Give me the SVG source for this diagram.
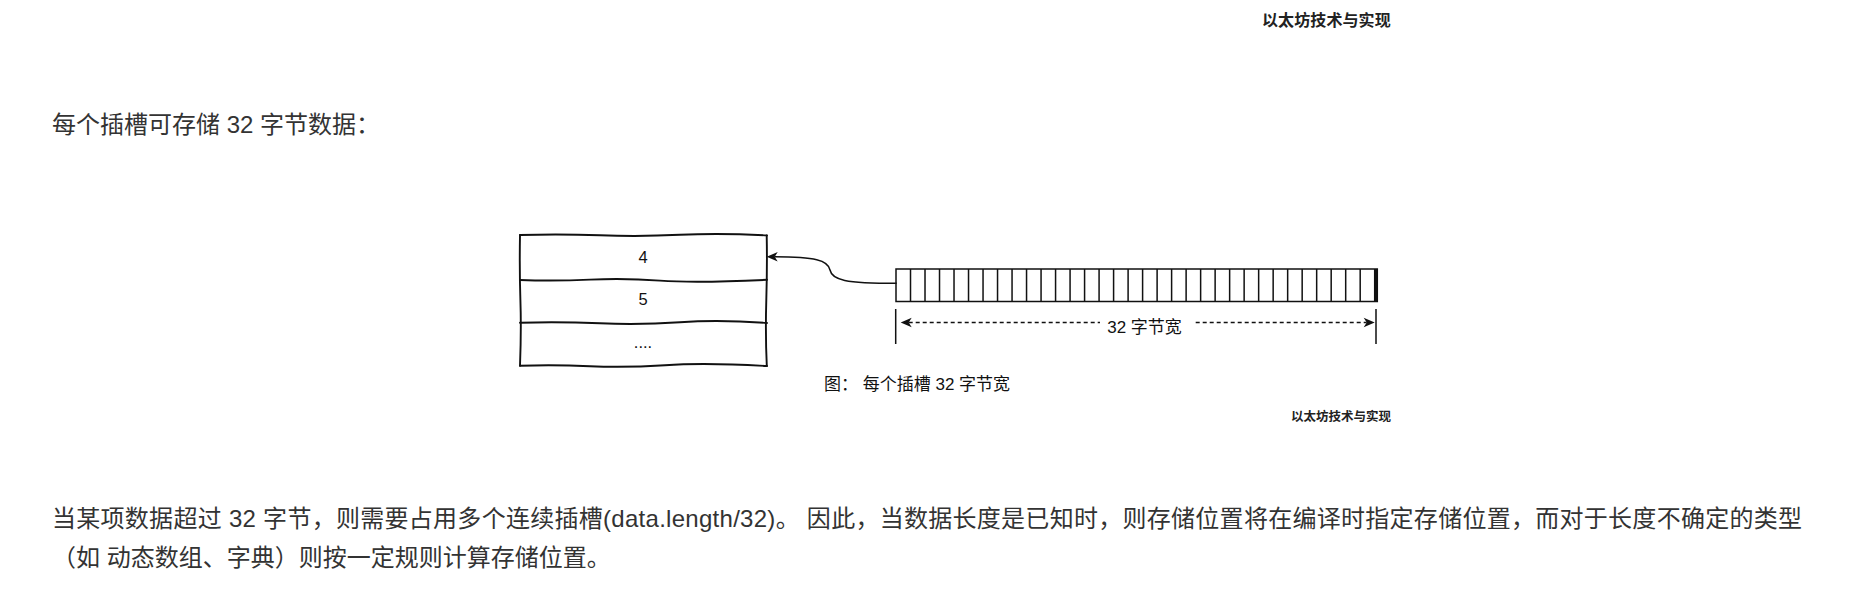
<svg xmlns="http://www.w3.org/2000/svg" width="1864" height="591" viewBox="0 0 1864 591">
<defs>
<style>
.body{font-family:"Liberation Sans","Noto Sans CJK SC",sans-serif;font-size:24px;fill:#333}
.wm{font-family:"Noto Sans CJK SC",serif;font-weight:700;fill:#222}
.lbl{font-family:"Liberation Sans","Noto Sans CJK SC",sans-serif;fill:#111}
.sk{fill:none;stroke:#111;stroke-width:1.9;stroke-linecap:round}
.ln{fill:none;stroke:#111;stroke-width:1.5}
.dash{fill:none;stroke:#111;stroke-width:1.5;stroke-dasharray:4 3}
</style>
<marker id="arrow" markerUnits="userSpaceOnUse" viewBox="-4 -6 13 12" refX="0" refY="0" markerWidth="13" markerHeight="12" orient="auto-start-reverse">
<path d="M -3 -4.8 L 8 0 L -3 4.8 L 0 0 Z" fill="#111"/>
</marker>
</defs>
<rect width="1864" height="591" fill="#fff"/>

<g id="watermark-top"><text class="wm" x="1262" y="25.5" font-size="16" letter-spacing="0.1">以太坊技术与实现</text></g>

<g id="heading"><text class="body" x="52" y="133">每个插槽可存储 32 字节数据：</text></g>

<g id="slots-table">
<path class="sk" d="M520 235 Q560 233.8 600 235.3 T680 234.8 T767 235.4"/>
<path class="sk" d="M520 280 Q555 281.2 590 279.6 T660 280.6 T767 279.8" stroke-width="2.2"/>
<path class="sk" d="M520 322.7 Q560 321.6 600 323.3 T680 322.2 T767 323"/>
<path class="sk" d="M520 365.7 Q555 364.6 590 366.2 T665 365.2 T767 366"/>
<path class="sk" d="M520 235 Q519.4 270 520.4 300 T520 365.7"/>
<path class="sk" d="M766.7 235.4 Q767.3 265 766.3 300 T766.8 366"/>
<text class="lbl" x="643" y="263" font-size="16.5" text-anchor="middle">4</text>
<text class="lbl" x="643" y="305" font-size="16.5" text-anchor="middle">5</text>
<text class="lbl" x="643" y="347.5" font-size="16.5" text-anchor="middle">....</text>
</g>

<g id="slot-bar">
<rect class="ln" x="896" y="269" width="481.3" height="32.5" fill="#fff"/>
<path class="ln" d="M910.51 269V301.5M925.01 269V301.5M939.52 269V301.5M954.02 269V301.5M968.53 269V301.5M983.04 269V301.5M997.54 269V301.5M1012.05 269V301.5M1026.55 269V301.5M1041.06 269V301.5M1055.57 269V301.5M1070.07 269V301.5M1084.58 269V301.5M1099.08 269V301.5M1113.59 269V301.5M1128.1 269V301.5M1142.6 269V301.5M1157.11 269V301.5M1171.61 269V301.5M1186.12 269V301.5M1200.63 269V301.5M1215.13 269V301.5M1229.64 269V301.5M1244.14 269V301.5M1258.65 269V301.5M1273.16 269V301.5M1287.66 269V301.5M1302.17 269V301.5M1316.67 269V301.5M1331.18 269V301.5M1345.69 269V301.5M1360.19 269V301.5M1374.7 269V301.5"/>
<rect x="1374.7" y="269" width="2.6" height="32.5" fill="#111"/>
</g>

<g id="dimension">
<path class="ln" d="M895.7 309V344M1376 309V344"/>
<path class="dash" d="M908.7 322.5H1366.7" marker-start="url(#arrow)" marker-end="url(#arrow)"/>
<rect x="1100" y="312" width="93" height="22" fill="#fff"/>
<text class="lbl" x="1144.5" y="332.5" font-size="17" text-anchor="middle">32 字节宽</text>
</g>

<g id="connectors">
<path class="ln" d="M896.7 283.3 C845 283.3 832 280 830 270 C828 260 815 257 774.7 256.8" marker-end="url(#arrow)"/>
</g>

<g id="caption"><text class="lbl" x="824" y="390" font-size="17">图： 每个插槽 32 字节宽</text></g>

<g id="watermark-bottom"><text class="wm" x="1291" y="421" font-size="12.5">以太坊技术与实现</text></g>

<g id="paragraph">
<text class="body" x="52" y="527" letter-spacing="0.28">当某项数据超过 32 字节，则需要占用多个连续插槽(data.length/32)。 因此，当数据长度是已知时，则存储位置将在编译时指定存储位置，而对于长度不确定的类型</text>
<text class="body" x="52" y="565.5">（如 动态数组、字典）则按一定规则计算存储位置。</text>
</g>
</svg>
